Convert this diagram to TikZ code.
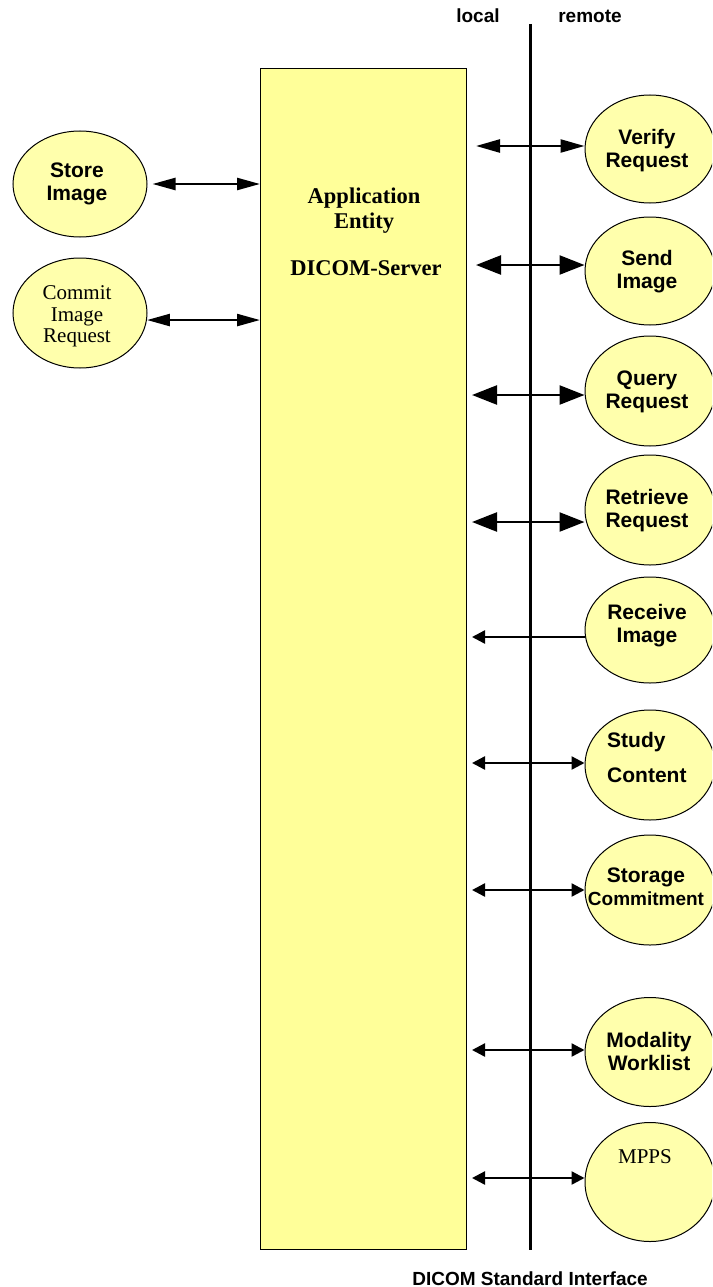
\documentclass[tikz,border=0pt]{standalone}
\usepackage{fontspec}
\setmainfont{Liberation Serif}
\newfontfamily\arialf{Liberation Sans}
\usetikzlibrary{shapes.geometric,arrows.meta}
\definecolor{boxyellow}{RGB}{255,255,153}
\definecolor{ellyellow}{RGB}{255,255,172}
\tikzset{
  ell/.style={ellipse, draw=black, line width=1pt, fill=ellyellow, inner sep=0pt},
  rell/.style={ell, minimum width=130pt, minimum height=109pt},
  sanslbl/.style={font={\arialf\bfseries\fontsize{21}{23}\selectfont}, align=center, inner sep=0pt},
  toplbl/.style={font={\arialf\bfseries\fontsize{19}{22}\selectfont}, inner sep=0pt, anchor=base},
  seriflbl/.style={font={\fontsize{21}{21.5}\selectfont}, align=center, inner sep=0pt},
  aelbl/.style={font={\bfseries\fontsize{22.5}{25}\selectfont}, align=center, inner sep=0pt},
  conn/.style={line width=2.4pt},
  lefttip/.style={conn, {Triangle[length=23pt,width=12pt]}-{Triangle[length=23pt,width=12pt]}},
  vtip/.style={conn, {Triangle[length=24pt,width=13pt]}-{Triangle[length=24pt,width=13pt]}},
  bigtip/.style={conn, {Triangle[length=25pt,width=19pt]}-{Triangle[length=25pt,width=19pt]}},
  smalltip/.style={conn, {Triangle[length=13pt,width=13pt]}-{Triangle[length=13pt,width=13pt]}},
  onetip/.style={conn, -{Triangle[length=13pt,width=13pt]}},
}
\begin{document}
\begin{tikzpicture}[x=1pt,y=-1pt]
\useasboundingbox (0,0) rectangle (712,1287);
\clip (0,0) rectangle (712,1287);

% application entity box
\node[draw=black, line width=1pt, fill=boxyellow, minimum width=206pt, minimum height=1181pt,
      anchor=north west, inner sep=0pt] (ae) at (260,68) {};
\node[aelbl] (aetitle) at (364,210.5) {Application\\Entity};
\node[aelbl, anchor=base] (aesub) at (366,275) {DICOM-Server};

% interface line
\coordinate (itop) at (530,24);
\coordinate (ibot) at (530,1250);
\draw[line width=3pt] (itop) -- (ibot);
\node[toplbl] (local) at (478,23) {local};
\node[toplbl] (remote) at (590,23) {remote};
\node[toplbl] (dsi) at (530,1285) {DICOM Standard Interface};

% left ellipses
\node[ell, minimum width=134pt, minimum height=106pt] (store) at (80,184) {};
\node[sanslbl] (storet) at (77,184) {Store\\Image};
\node[ell, minimum width=134pt, minimum height=110pt] (commit) at (80,313) {};
\node[seriflbl] (committ) at (77,316.7) {Commit\\Image\\Request};

\draw[lefttip, shorten <=5pt] (store.east) -- (store.east -| ae.west);
\draw[lefttip] (commit.-6) -- (commit.-6 -| ae.west);

% right ellipses
\node[rell, minimum height=108pt] (verify) at (650,149) {};
\node[sanslbl] (verifyt) at (647,151) {Verify\\Request};
\node[rell, minimum height=108pt] (send) at (650,271) {};
\node[sanslbl] (sendt) at (647,272) {Send\\Image};
\node[rell, minimum height=110pt] (query) at (650,391) {};
\node[sanslbl] (queryt) at (647,392) {Query\\Request};
\node[rell, minimum height=110pt] (retrieve) at (650,510) {};
\node[sanslbl] (retrievet) at (647,511) {Retrieve\\Request};
\node[rell, minimum height=106pt] (receive) at (650,630) {};
\node[sanslbl] (receivet) at (647,626) {Receive\\Image};
\node[rell, minimum height=110pt] (study) at (650,765) {};
\node[sanslbl, align=left, anchor=west, font={\arialf\bfseries\fontsize{21}{35}\selectfont}] (studyt) at (607,757) {Study\\Content};
\node[rell, minimum height=110pt] (storage) at (650,890) {};
\node[sanslbl] (storaget) at (646,887) {Storage\\{\fontsize{19}{23}\selectfont Commitment}};
\node[rell, minimum height=109pt] (modality) at (650,1052) {};
\node[sanslbl] (modalityt) at (649,1051) {Modality\\Worklist};
\node[rell, minimum height=119pt] (mpps) at (650,1182) {};
\node[seriflbl, anchor=base] (mppst) at (645,1163) {MPPS};

% connector free ends (local side)
\coordinate (vL) at (476,146);
\coordinate (sL) at (476,265);
\coordinate (qL) at (472,395);
\coordinate (rL) at (472,522);
\coordinate (rcL) at (472,637);
\coordinate (stL) at (472,763);
\coordinate (scL) at (472,890);
\coordinate (mwL) at (472,1050);
\coordinate (mpL) at (472,1178);

\draw[vtip] (vL) -- (vL -| verify.west);
\draw[bigtip] (sL) -- (sL -| send.west);
\draw[bigtip] (qL) -- (qL -| query.west);
\draw[bigtip] (rL) -- (rL -| retrieve.west);
\draw[onetip] (rcL -| receive.west) -- (rcL);
\draw[smalltip] (stL) -- (stL -| study.west);
\draw[smalltip] (scL) -- (scL -| storage.west);
\draw[smalltip] (mwL) -- (mwL -| modality.west);
\draw[smalltip] (mpL) -- (mpL -| mpps.west);
\end{tikzpicture}
\end{document}
